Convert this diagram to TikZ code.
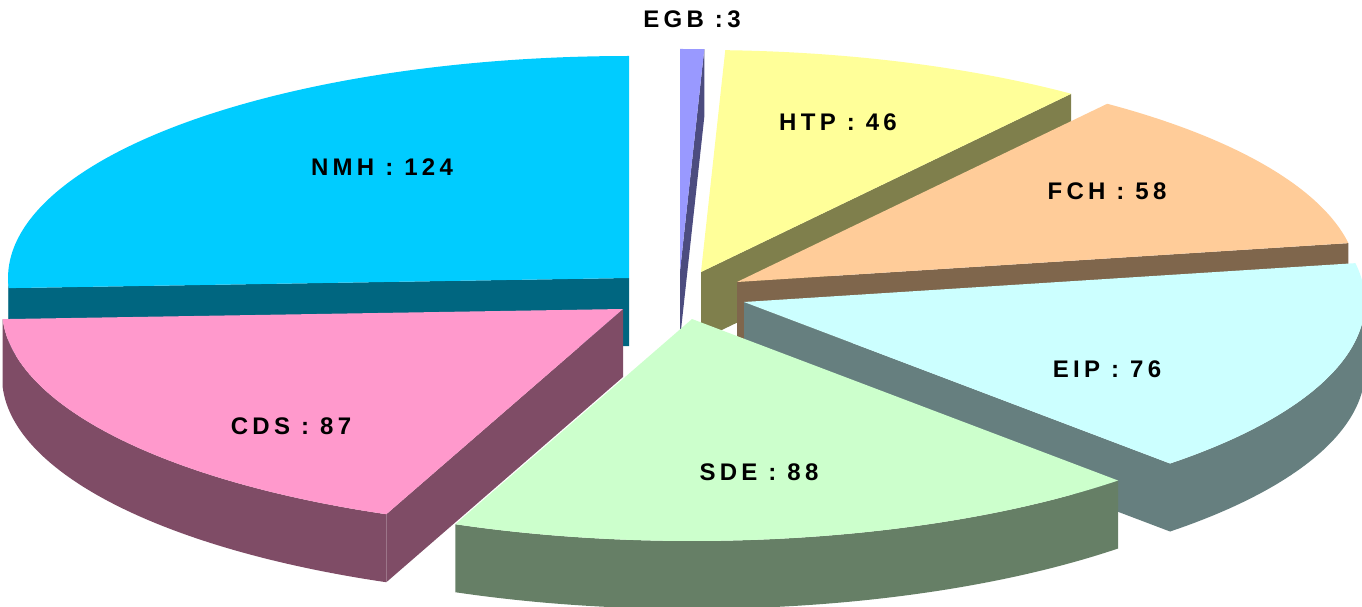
\documentclass[tikz,border=0pt]{standalone}
\usepackage{fontspec}
\newfontfamily\lblfont{Liberation Sans}[LetterSpace=18]
\definecolor{nmhT}{HTML}{00CCFF}\definecolor{nmhS}{HTML}{006680}
\definecolor{cdsT}{HTML}{FF99CC}\definecolor{cdsS}{HTML}{7F4C66}
\definecolor{sdeT}{HTML}{CCFFCC}\definecolor{sdeS}{HTML}{667F66}
\definecolor{eipT}{HTML}{CCFFFF}\definecolor{eipS}{HTML}{667F7F}
\definecolor{fchT}{HTML}{FFCC99}\definecolor{fchS}{HTML}{7F664C}
\definecolor{htpT}{HTML}{FFFF99}\definecolor{htpS}{HTML}{7F7F4C}
\definecolor{egbT}{HTML}{9999FF}\definecolor{egbS}{HTML}{4C4C7F}
% top face: apex x, apex Y, start angle, end angle (clockwise from top), colour
\newcommand\pieTop[5]{%
  \fill[#5] (#1,#2) -- ++({621*sin(#3)},{222*cos(#3)})
    arc[start angle={90-#3}, end angle={90-#4}, x radius=621pt, y radius=222pt] -- cycle;}
% outer side between angles a and b
\newcommand\pieOuter[5]{%
  \fill[#5] ({#1+621*sin(#3)},{#2+222*cos(#3)})
    arc[start angle={90-#3}, end angle={90-#4}, x radius=621pt, y radius=222pt]
    -- ++(0,-68)
    arc[start angle={90-#4}, end angle={90-#3}, x radius=621pt, y radius=222pt] -- cycle;}
% radial side at angle t
\newcommand\pieRad[4]{%
  \fill[#4] (#1,#2) -- ++({621*sin(#3)},{222*cos(#3)}) -- ++(0,-68) -- ({#1},{#2-68}) -- cycle;}
\begin{document}
\begin{tikzpicture}[x=1pt,y=1pt,
  lbl/.style={font=\lblfont\bfseries\fontsize{24}{29}\selectfont, inner sep=0pt, text=black}]
\useasboundingbox (0,0) rectangle (1362,606);
% NMH
\pieRad{629}{328}{267.386}{nmhS}
\pieOuter{629}{328}{267.386}{270}{nmhS}
\pieTop{629}{328}{267.386}{360}{nmhT}
% EGB
\pieRad{680}{335}{2.2407}{egbS}
\pieTop{680}{335}{0}{2.2407}{egbT}
% HTP
\pieRad{701}{334}{36.598}{htpS}
\pieTop{701}{334}{2.2407}{36.598}{htpT}
% FCH
\pieRad{737}{324}{79.917}{fchS}
\pieTop{737}{324}{36.598}{79.917}{fchT}
% EIP
\pieRad{744}{304}{136.680}{eipS}
\pieOuter{744}{304}{90}{136.680}{eipS}
\pieTop{744}{304}{79.917}{136.680}{eipT}
% CDS
\pieRad{623}{297}{202.407}{cdsS}
\pieOuter{623}{297}{202.407}{267.386}{cdsS}
\pieTop{623}{297}{202.407}{267.386}{cdsT}
% SDE
\pieOuter{692}{287}{136.680}{202.407}{sdeS}
\pieTop{692}{287}{136.680}{202.407}{sdeT}
% labels
\node[lbl] (lnmh) at (382,439) {NMH : 124};
\node[lbl] (lcds) at (291,180) {CDS : 87};
\node[lbl] (lsde) at (759,134) {SDE : 88};
\node[lbl] (leip) at (1107,237) {EIP : 76};
\node[lbl] (lfch) at (1107,415) {FCH : 58};
\node[lbl] (lhtp) at (838,484) {HTP : 46};
\node[lbl] (legb) at (692,587) {EGB :3};
\end{tikzpicture}
\end{document}
